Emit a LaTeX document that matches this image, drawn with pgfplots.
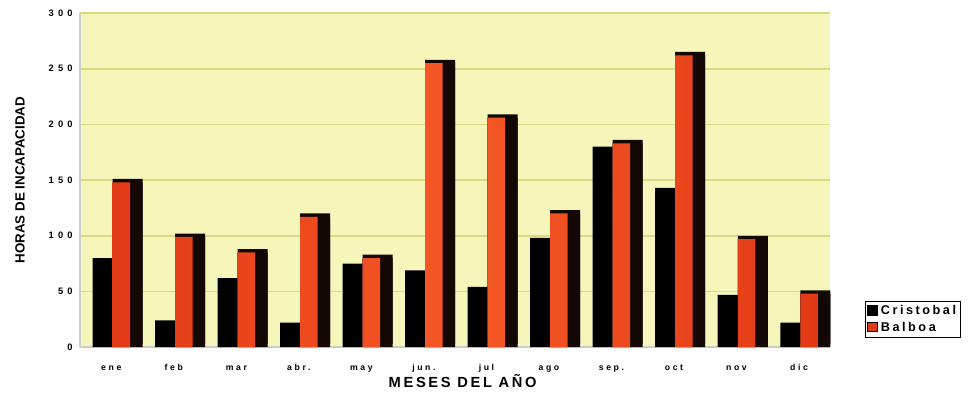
\documentclass[border=0pt]{standalone}
\usepackage{fontspec}
\setmainfont{Liberation Sans}
\newfontfamily\ytickfont[LetterSpace=45]{Liberation Sans}
\newfontfamily\xtickfont[LetterSpace=30]{Liberation Sans}
\newfontfamily\xlabfont[LetterSpace=18]{Liberation Sans}
\newfontfamily\legfont[LetterSpace=20]{Liberation Sans}
\usepackage{pgfplots}
\pgfplotsset{compat=1.18}
\definecolor{bg}{RGB}{246,246,186}
\definecolor{gridc}{RGB}{218,218,130}
\definecolor{barorange}{RGB}{226,58,22}
\definecolor{barorangeL}{RGB}{245,88,38}
\definecolor{shadow}{RGB}{20,8,5}

\pgfplotstableread{
x cristobal balboa
0 80 148
1 24 99
2 62 85
3 22 117
4 75 80
5 69 255
6 54 206
7 98 120
8 180 183
9 143 262
10 47 97
11 22 48
}\datatable

\begin{document}
\begin{tikzpicture}
\useasboundingbox (-60pt,-35.25pt) rectangle (666.5pt,260.25pt);
\begin{axis}[
  at={(0,0)}, anchor=south west,
  scale only axis, width=562.5pt, height=250.5pt,
  xmin=-0.5, xmax=11.5, ymin=0, ymax=300,
  ytick={0,50,...,300},
  xtick={0,...,11},
  xticklabels={ene,feb,mar,abr.,may,jun.,jul,ago,sep.,oct,nov,dic},
  /pgf/number format/assume math mode=true,
  ymajorgrids,
  grid style={color=gridc, line width=1.3pt},
  axis background/.style={fill=bg},
  axis lines*=left,
  axis line style={draw=black!20, line width=1pt},
  major tick length=0pt,
  yticklabel style={font=\ytickfont\bfseries\fontsize{7}{8}\selectfont, xshift=-2pt},
  xticklabel style={font=\xtickfont\bfseries\fontsize{6.5}{7.5}\selectfont, text height=1.6ex, text depth=0.4ex, yshift=-5.5pt},
  xlabel={MESES DEL AÑO},
  xlabel style={font=\xlabfont\bfseries\fontsize{11}{13}\selectfont, at={(axis description cs:0.51,0)}, anchor=center, yshift=-25.5pt},
  ylabel={HORAS DE INCAPACIDAD},
  ylabel style={font=\bfseries\fontsize{10}{12}\selectfont, at={(axis description cs:-0.08,0.5)}, anchor=center},
  legend style={at={(axis description cs:1,0)}, anchor=south west, xshift=26pt, yshift=7pt,
    draw=black, line width=0.7pt, fill=white, font=\legfont\bfseries\fontsize{9.5}{11}\selectfont,
    inner sep=1.2pt, row sep=0pt, legend cell align=left},
  legend image code/.code={\draw[#1, line width=1pt] (0cm,-0.11cm) rectangle (0.26cm,0.13cm);},
]
\addlegendimage{fill=black, draw=black}
\addlegendentry{Cristobal}
\addlegendimage{fill=barorange, draw=black}
\addlegendentry{Balboa}
\addplot[ybar, bar width=0.32, bar shift=-0.14, fill=black, draw=none, forget plot] table[x=x, y=cristobal] {\datatable};
\addplot[ybar, bar width=0.48, bar shift=0.26, fill=shadow, draw=none, forget plot] table[x=x, y=balboa] {\datatable};
\addplot[ybar, bar width=0.48, bar shift=0.26, fill=shadow, draw=none, yshift=2.5pt, forget plot] table[x=x, y=balboa] {\datatable};
\addplot[ybar, bar width=0.28, bar shift=0.16, left color=barorange, right color=barorange, middle color=barorangeL, draw=none, forget plot] table[x=x, y=balboa] {\datatable};
\end{axis}
\end{tikzpicture}
\end{document}
